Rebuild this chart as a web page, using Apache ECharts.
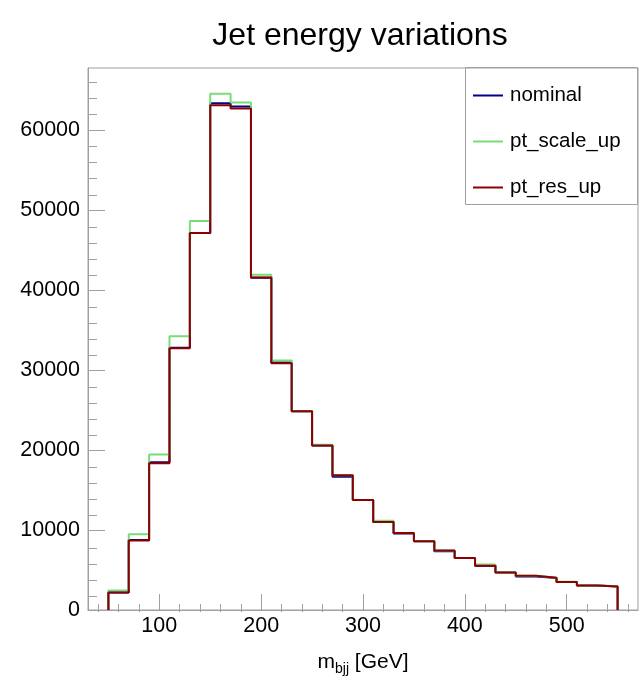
<!DOCTYPE html>
<html><head><meta charset="utf-8">
<script src="https://cdn.jsdelivr.net/npm/echarts@6/dist/echarts.min.js"></script>
<style>html,body{margin:0;padding:0;background:#fff}#c{width:639px;height:681px}</style>
</head><body><div id="c"></div>
<script>
// ---- data ----
const binEdges = [50,70,90,110,130,150,170,190,210,230,250,270,290,310,330,350,370,390,410,430,450,470,490,510,530,550];
const nominal   = [2200, 8770, 18490, 32790, 47170, 63400, 62970, 41560, 30950, 24850, 20570, 16670, 13760, 11010, 9560, 8600, 7360, 6520, 5530, 4700, 4200, 3990, 3490, 3080, 2950];
const ptScaleUp = [2450, 9480, 19450, 34250, 48670, 64590, 63470, 41930, 31210, 24850, 20660, 16870, 13760, 11180, 9640, 8600, 7440, 6520, 5690, 4700, 4280, 4030, 3520, 3100, 2950];
const ptResUp   = [2200, 8690, 18370, 32750, 47170, 63150, 62720, 41600, 30880, 24850, 20570, 16870, 13760, 11010, 9640, 8600, 7440, 6520, 5530, 4700, 4280, 4030, 3490, 3080, 2950];
const seriesNames = ['nominal', 'pt_scale_up', 'pt_res_up'];
const xTickLabels = [100, 200, 300, 400, 500];
const xMinorTicks = [40, 60, 80, 120, 140, 160, 180, 220, 240, 260, 280, 320, 340, 360, 380, 420, 440, 460, 480, 520, 540, 560];
const yTickLabels = [0, 10000, 20000, 30000, 40000, 50000, 60000];
const yMinorTicks = [2000, 4000, 6000, 8000, 12000, 14000, 16000, 18000, 22000, 24000, 26000, 28000, 32000, 34000, 36000, 38000, 42000, 44000, 46000, 48000, 52000, 54000, 56000, 58000, 62000, 64000, 66000];
const titleText = 'Jet energy variations';

// ---- build ----
const FONT = '"Liberation Sans", Arial, Helvetica, sans-serif';
const GRAY = '#a0a0a0';
const colors = ['#000088', '#77dd77', '#8c0000'];

function histo(values) {
  const pts = [[binEdges[0], 0]];
  values.forEach((v, i) => pts.push([binEdges[i], v]));
  const last = binEdges[binEdges.length - 1];
  pts.push([last, values[values.length - 1]]);
  pts.push([last, 0]);
  return pts;
}

const gridBox = {left: 88, right: 1, top: 68, bottom: 69};
const chart = echarts.init(document.getElementById('c'), null, {renderer: 'canvas'});
chart.setOption({
  animation: false,
  backgroundColor: '#fff',
  title: {
    text: titleText, left: 360, top: 20, textAlign: 'center', padding: 0,
    textStyle: {fontSize: 32, fontWeight: 'normal', color: '#000', fontFamily: FONT}
  },
  grid: [
    Object.assign({show: true, borderColor: GRAY, borderWidth: 1, backgroundColor: 'transparent'}, gridBox),
    Object.assign({show: false}, gridBox)
  ],
  xAxis: [
    {
      gridIndex: 0, type: 'value', min: 30, max: 570,
      axisLine: {show: true, lineStyle: {color: GRAY, width: 1}},
      axisTick: {show: true, inside: true, length: 16, customValues: xTickLabels, lineStyle: {color: GRAY}},
      axisLabel: {customValues: xTickLabels, fontSize: 21.5, color: '#000', margin: 5, fontFamily: FONT,
                  formatter: v => String(v)},
      splitLine: {show: false},
      name: '{m|m}{s|bjj}{g| [GeV]}',
      nameLocation: 'middle', nameGap: 42, nameMoveOverlap: false,
      nameTextStyle: {
        rich: {
          m: {fontSize: 21, color: '#000', fontFamily: FONT, lineHeight: 22, verticalAlign: 'top'},
          s: {fontSize: 14, color: '#000', fontFamily: FONT, lineHeight: 14, padding: [10, 0, 0, 0], verticalAlign: 'top'},
          g: {fontSize: 21, color: '#000', fontFamily: FONT, lineHeight: 22, verticalAlign: 'top'}
        }
      }
    },
    {
      gridIndex: 1, type: 'value', min: 30, max: 570,
      axisLine: {show: false},
      axisTick: {show: true, inside: true, length: 8, customValues: xMinorTicks, lineStyle: {color: GRAY}},
      axisLabel: {show: false},
      splitLine: {show: false}
    }
  ],
  yAxis: [
    {
      gridIndex: 0, type: 'value', min: 0, max: 67800,
      axisLine: {show: true, lineStyle: {color: GRAY, width: 1}},
      axisTick: {show: true, inside: true, length: 17, customValues: yTickLabels, lineStyle: {color: GRAY}},
      axisLabel: {customValues: yTickLabels, fontSize: 21.5, color: '#000', margin: 8, fontFamily: FONT,
                  formatter: v => String(v)},
      splitLine: {show: false}
    },
    {
      gridIndex: 1, type: 'value', min: 0, max: 67800,
      axisLine: {show: false},
      axisTick: {show: true, inside: true, length: 9, customValues: yMinorTicks, lineStyle: {color: GRAY}},
      axisLabel: {show: false},
      splitLine: {show: false}
    }
  ],
  legend: {
    data: seriesNames, orient: 'vertical', left: 473, top: 85,
    icon: 'rect', itemWidth: 30, itemHeight: 2, itemGap: 25, padding: 0,
    textStyle: {fontSize: 20.5, color: '#000', fontFamily: FONT, padding: [0, 0, 0, 2]}
  },
  graphic: [{
    type: 'rect', z: -1,
    shape: {x: 465.5, y: 67.5, width: 172, height: 137},
    style: {fill: '#fff', stroke: GRAY, lineWidth: 1}
  }],
  series: [nominal, ptScaleUp, ptResUp].map((vals, i) => ({
    name: seriesNames[i], type: 'line', step: 'end', symbol: 'none',
    xAxisIndex: 0, yAxisIndex: 0,
    data: histo(vals), color: colors[i],
    lineStyle: {width: 2, color: colors[i]}, z: 2 + i
  }))
});
</script></body></html>
